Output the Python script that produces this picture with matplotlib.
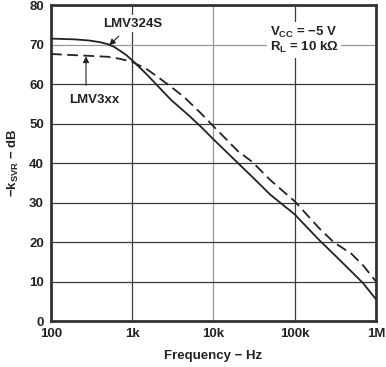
import matplotlib
matplotlib.use("Agg")
import matplotlib.pyplot as plt
import numpy as np

plt.rcParams['font.family'] = ['Liberation Sans', 'DejaVu Sans']
plt.rcParams['font.weight'] = 'bold'
plt.rcParams['mathtext.fontset'] = 'custom'
plt.rcParams['mathtext.rm'] = 'Liberation Sans:bold'
plt.rcParams['mathtext.it'] = 'Liberation Sans:bold'
plt.rcParams['mathtext.bf'] = 'Liberation Sans:bold'

freq_324 = [100, 200, 300, 400, 500, 600, 700, 850, 1e3, 1.5e3, 2e3, 3e3, 5e3, 7e3, 1e4, 2e4, 3e4, 5e4, 1e5, 2e5, 3e5, 5e5, 7e5, 1e6]
ksvr_324 = [71.5, 71.3, 71.0, 70.6, 70.1, 69.4, 68.5, 67.3, 66.0, 62.5, 59.8, 56.0, 52.0, 49.2, 46.0, 40.0, 36.5, 32.0, 27.0, 20.5, 17.0, 12.5, 9.5, 5.5]

freq_3xx = [100, 200, 500, 700, 1e3, 1.5e3, 2e3, 3e3, 4.3e3, 7e3, 1e4, 2e4, 3e4, 5e4, 1e5, 2e5, 3e5, 5e5, 7e5, 1e6]
ksvr_3xx = [67.6, 67.3, 66.9, 66.4, 65.6, 63.8, 62.0, 59.3, 56.8, 52.6, 49.3, 43.0, 40.3, 35.7, 30.3, 23.5, 20.0, 17.0, 14.0, 10.0]

xticks = [100, 1e3, 1e4, 1e5, 1e6]
xticklabels = ['100', '1k', '10k', '100k', '1M']
yticks = [0, 10, 20, 30, 40, 50, 60, 70, 80]

fig = plt.figure(figsize=(3.86, 3.67), dpi=100)
ax = fig.add_axes([0.132, 0.1253, 0.842, 0.861])
ax.set_xscale('log')
ax.set_xlim(100, 1e6)
ax.set_ylim(0, 80)
ax.set_xticks(xticks)
ax.set_xticklabels(xticklabels)
ax.set_yticks(yticks)
ax.minorticks_off()
ax.tick_params(length=0, labelsize=9.5, pad=5)
for lbl in ax.get_xticklabels() + ax.get_yticklabels():
    lbl.set_fontweight('bold')
    lbl.set_color('#222222')

ax.grid(True, color='#3a3a3a', linewidth=0.9)
for i, gl in enumerate(ax.get_xgridlines()):
    if xticks[i] == 1e4:
        gl.set_color('#9a9a9a')
for i, gl in enumerate(ax.get_ygridlines()):
    if yticks[i] == 70:
        gl.set_color('#9a9a9a')
ax.set_axisbelow(True)

for s in ax.spines.values():
    s.set_linewidth(2.0)
    s.set_color('#333333')

ax.plot(freq_324, ksvr_324, color='#222222', lw=1.3, zorder=3)
ax.plot(freq_3xx, ksvr_3xx, color='#222222', lw=1.3, dashes=(6, 3), zorder=3)

bbox = dict(facecolor='white', edgecolor='none', pad=2)
ax.annotate('LMV324S', xy=(520, 69.8), xytext=(1000, 75.3), ha='center', va='center',
            fontsize=9.5, fontweight='bold', color='#222222', bbox=bbox,
            arrowprops=dict(arrowstyle='-|>', color='#222222', lw=0.8, mutation_scale=9, shrinkA=4, shrinkB=0))
ax.text(340, 56, 'LMV3xx', ha='center', va='center',
        fontsize=9.5, fontweight='bold', color='#222222', bbox=bbox)
ax.annotate('', xy=(270, 67.0), xytext=(270, 59.7),
            arrowprops=dict(arrowstyle='-|>', color='#222222', lw=0.8, mutation_scale=9, shrinkA=0, shrinkB=0))
ax.text(1.3e5, 71.2, '$\\mathregular{V_{CC}}$ = −5 V\n$\\mathregular{R_{L}}$ = 10 kΩ', ha='center', va='center',
        fontsize=9.5, fontweight='bold', color='#222222', linespacing=1.0, bbox=bbox)

ax.set_xlabel('Frequency − Hz', fontsize=9.5, fontweight='bold', color='#222222', labelpad=7)
ax.set_ylabel('$\\mathregular{-k_{SVR}}$ − dB', fontsize=9.5, fontweight='bold', color='#222222', labelpad=6)

fig.savefig('out.png', dpi=100)
